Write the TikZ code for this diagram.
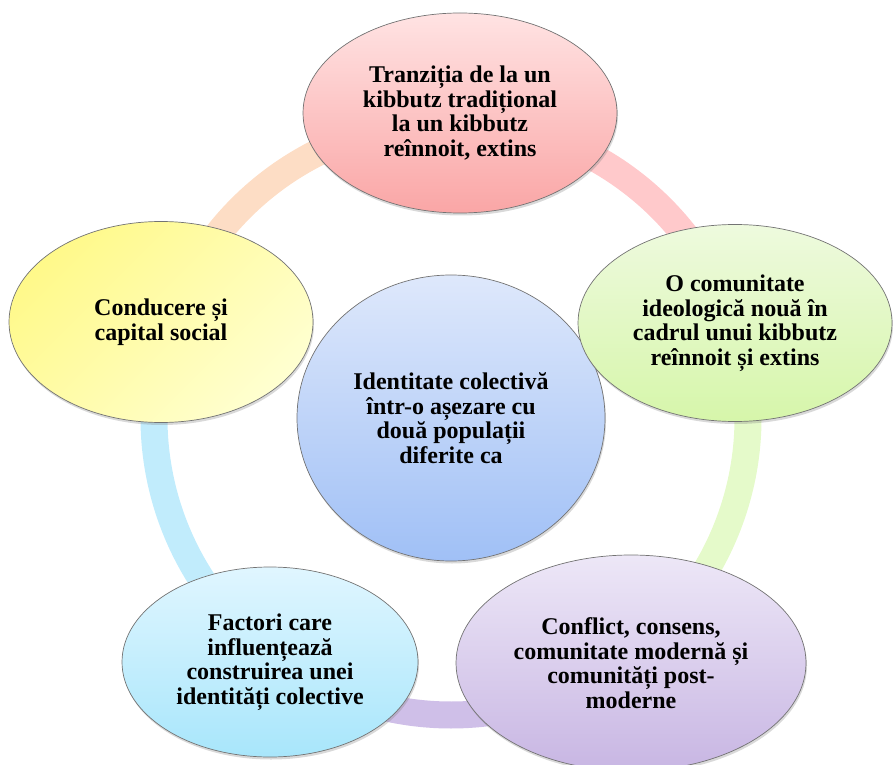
\documentclass[tikz,border=0pt]{standalone}
\usepackage{fontspec}
\setmainfont{Liberation Serif}
\usetikzlibrary{shapes.geometric,shadows,backgrounds}

\definecolor{midA}{RGB}{222,232,251}
\definecolor{midB}{RGB}{160,192,246}
\definecolor{pinkA}{RGB}{255,227,227}
\definecolor{pinkB}{RGB}{250,166,166}
\definecolor{greenA}{RGB}{238,250,222}
\definecolor{greenB}{RGB}{214,246,170}
\definecolor{lilacA}{RGB}{237,231,247}
\definecolor{lilacB}{RGB}{200,182,227}
\definecolor{skyA}{RGB}{224,246,255}
\definecolor{skyB}{RGB}{168,230,251}
\definecolor{lemonA}{RGB}{255,249,138}
\definecolor{lemonB}{RGB}{255,255,208}
\definecolor{ringPeach}{RGB}{253,221,197}
\definecolor{ringPink}{RGB}{255,201,203}
\definecolor{ringGreen}{RGB}{229,250,202}
\definecolor{ringLilac}{RGB}{207,191,232}
\definecolor{ringSky}{RGB}{193,236,252}

\begin{document}
\begin{tikzpicture}[x=1pt,y=1pt]
\tikzstyle{bubble}=[ellipse,draw=black!55,line width=0.7pt,inner sep=0pt,align=center,
  font=\fontsize{24}{24.5}\selectfont\bfseries,
  drop shadow={opacity=0.3,shadow xshift=1pt,shadow yshift=-2.5pt}]
\tikzstyle{ring}=[line width=27pt]
\useasboundingbox (0,0) rectangle (893,764);
\node[bubble,minimum width=308,minimum height=286,top color=midA,bottom color=midB] (v0) at (451,346) {Identitate colectivă\\într-o așezare cu\\două populații\\diferite ca};
\node[bubble,minimum width=314,minimum height=200,top color=pinkA,bottom color=pinkB] (v1) at (460,651) {Tranziția de la un\\kibbutz tradițional\\la un kibbutz\\reînnoit, extins};
\node[bubble,minimum width=314,minimum height=197,top color=greenA,bottom color=greenB] (v2) at (735,441) {O comunitate\\ideologică nouă în\\cadrul unui kibbutz\\reînnoit și extins};
\node[bubble,minimum width=350,minimum height=216,top color=lilacA,bottom color=lilacB] (v3) at (631,101) {Conflict, consens,\\comunitate modernă și\\comunități post-\\moderne};
\node[bubble,minimum width=296,minimum height=190,top color=skyA,bottom color=skyB] (v4) at (270,102) {Factori care\\influențează\\construirea unei\\identități colective};
\node[bubble,minimum width=304,minimum height=201,top color=lemonA,bottom color=lemonB,shading angle=45] (v5) at (161,442) {Conducere și\\capital social};
\begin{scope}[on background layer]
\draw[ring,ringPink] (v0.center) ++(90:297) arc[start angle=90,end angle=18,radius=297];
\draw[ring,ringGreen] (v0.center) ++(18:297) arc[start angle=18,end angle=-54,radius=297];
\draw[ring,ringLilac] (v0.center) ++(-54:297) arc[start angle=-54,end angle=-126,radius=297];
\draw[ring,ringSky] (v0.center) ++(-126:297) arc[start angle=-126,end angle=-198,radius=297];
\draw[ring,ringPeach] (v0.center) ++(162:297) arc[start angle=162,end angle=90,radius=297];
\end{scope}
\end{tikzpicture}
\end{document}
